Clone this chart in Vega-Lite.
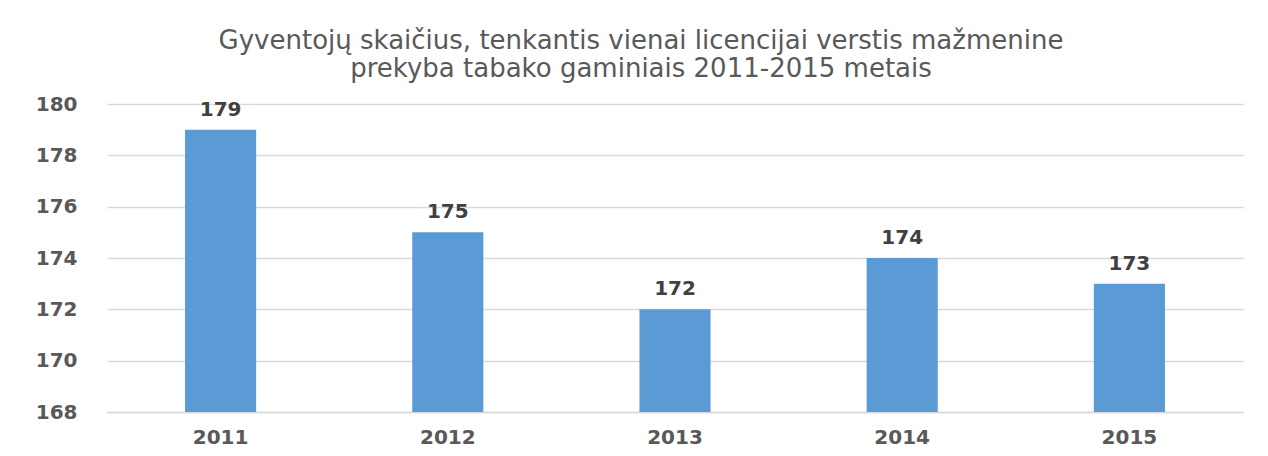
{
  "$schema": "https://vega.github.io/schema/vega-lite/v6.json",
  "width": 1136,
  "height": 308,
  "autosize": {"type": "none"},
  "padding": {"left": 107, "top": 104, "right": 25, "bottom": 44},
  "background": "white",
  "config": {"view": {"stroke": null}, "font": "DejaVu Sans"},
  "title": {
    "text": ["Gyventojų skaičius, tenkantis vienai licencijai verstis mažmenine", "prekyba tabako gaminiais 2011-2015 metais"],
    "fontSize": 26,
    "fontWeight": "normal",
    "color": "#595959",
    "font": "DejaVu Sans",
    "anchor": "middle",
    "dx": -34,
    "offset": 12,
    "lineHeight": 28
  },
  "data": {"values": [
    {"year": "2011", "value": 179},
    {"year": "2012", "value": 175},
    {"year": "2013", "value": 172},
    {"year": "2014", "value": 174},
    {"year": "2015", "value": 173}
  ]},
  "encoding": {
    "x": {"field": "year", "type": "nominal", "title": null,
      "scale": {"paddingInner": 0.687, "paddingOuter": 0.3435},
      "axis": {"labelAngle": 0, "ticks": false, "domain": true, "domainColor": "#d9d9d9", "domainWidth": 1.5, "labelFontSize": 20, "labelFontWeight": "bold", "labelColor": "#595959", "labelPadding": 15, "labelFont": "DejaVu Sans"}}
  },
  "layer": [
    {
      "mark": {"type": "bar", "color": "#5b9bd5", "clip": true},
      "encoding": {
        "y": {"field": "value", "type": "quantitative", "title": null,
          "scale": {"domain": [168, 180], "zero": false, "nice": false},
          "axis": {"values": [168, 170, 172, 174, 176, 178, 180], "ticks": false, "domain": false, "gridColor": "#d9d9d9", "gridWidth": 1.5, "labelFontSize": 20, "labelFontWeight": "bold", "labelColor": "#595959", "labelPadding": 30, "labelFont": "DejaVu Sans"}},
        "y2": {"datum": 168}
      }
    },
    {
      "mark": {"type": "text", "dy": -20, "fontSize": 20, "fontWeight": "bold", "color": "#404040", "font": "DejaVu Sans"},
      "encoding": {
        "y": {"field": "value", "type": "quantitative"},
        "text": {"field": "value", "type": "quantitative"}
      }
    }
  ]
}
